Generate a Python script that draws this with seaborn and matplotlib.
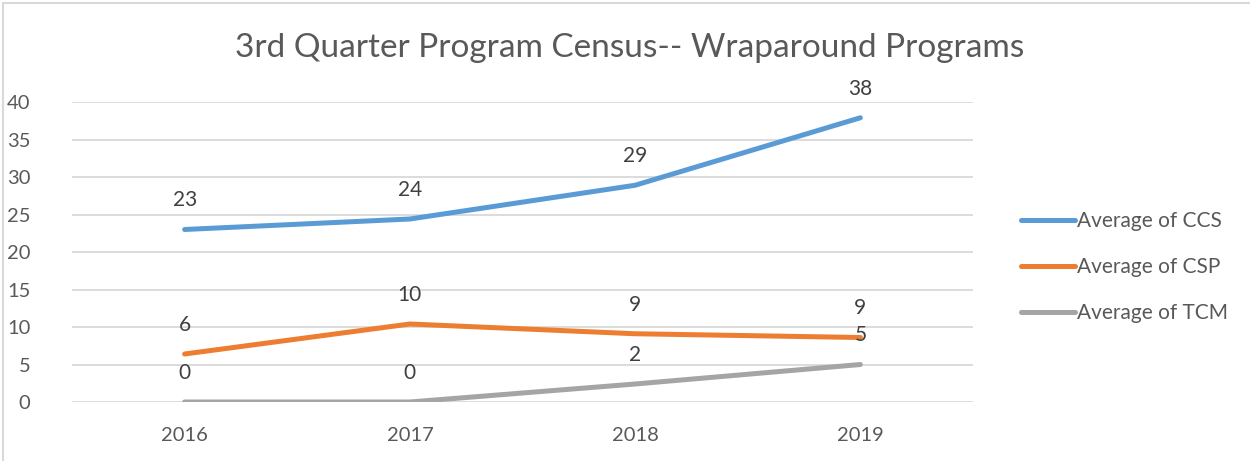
import numpy as np
import pandas as pd
import matplotlib
matplotlib.use("Agg")
import matplotlib.pyplot as plt
import seaborn as sns

# data
years = ["2016", "2017", "2018", "2019"]
ccs = [23.0, 24.4, 28.9, 37.9]
csp = [6.4, 10.4, 9.1, 8.6]
tcm = [0.0, 0.0, 2.4, 5.0]
series_names = ["Average of CCS", "Average of CSP", "Average of TCM"]
colors = ["#5B9BD5", "#ED7D31", "#A5A5A5"]

df = pd.DataFrame({
    "year": years * 3,
    "value": ccs + csp + tcm,
    "series": [series_names[0]] * 4 + [series_names[1]] * 4 + [series_names[2]] * 4,
})

sns.set_style("white")
plt.rcParams["font.family"] = ["Lato", "DejaVu Sans"]
text_col = "#595959"

fig = plt.figure(figsize=(12.5, 4.61), dpi=100)
ax = fig.add_axes([72 / 1250, 1 - 402 / 461, 901 / 1250, 300 / 461])

sns.lineplot(data=df, x="year", y="value", hue="series", palette=colors,
             linewidth=3.6, ax=ax, legend=True, sort=False)
for ln in ax.lines:
    ln.set_solid_capstyle("round")
    ln.set_solid_joinstyle("round")

# data labels
for vals in [ccs, csp, tcm]:
    for i, v in enumerate(vals):
        ax.annotate(f"{v:.0f}", (i, v), xytext=(0, 21), textcoords="offset points",
                    ha="center", va="center", fontsize=15, color="#404040")

ax.set_xlim(-0.5, 3.5)
ax.set_ylim(0, 40)
ax.set_yticks(range(0, 41, 5))
ax.yaxis.grid(True, color="#D9D9D9", linewidth=1.3)
ax.set_axisbelow(True)
for s in ax.spines.values():
    s.set_visible(False)
ax.tick_params(axis="y", length=0, pad=30, labelsize=14.5, labelcolor=text_col)
ax.tick_params(axis="x", length=0, pad=18, labelsize=14.5, labelcolor=text_col)
ax.set_xlabel("")
ax.set_ylabel("")

handles, labels = ax.get_legend_handles_labels()
ax.get_legend().remove()
leg = fig.legend(handles, labels, loc="center left", bbox_to_anchor=(1002 / 1250, 1 - 267 / 461),
                 frameon=False, fontsize=15, handlelength=2.6, handletextpad=0.1,
                 labelspacing=1.25, labelcolor=text_col)
for h in leg.get_lines():
    h.set_linewidth(3.6)
    h.set_solid_capstyle("round")

fig.text(630 / 1250, 1 - 48 / 461, "3rd Quarter Program Census-- Wraparound Programs",
         ha="center", va="center", fontsize=24, color=text_col)

# chart border
fig.add_artist(plt.Rectangle((3 / 1250, -0.05), 1.2, 1 - 3 / 461 + 0.05, transform=fig.transFigure,
                             fill=False, edgecolor="#D9D9D9", linewidth=1.5))

fig.savefig("out.png", dpi=100)
